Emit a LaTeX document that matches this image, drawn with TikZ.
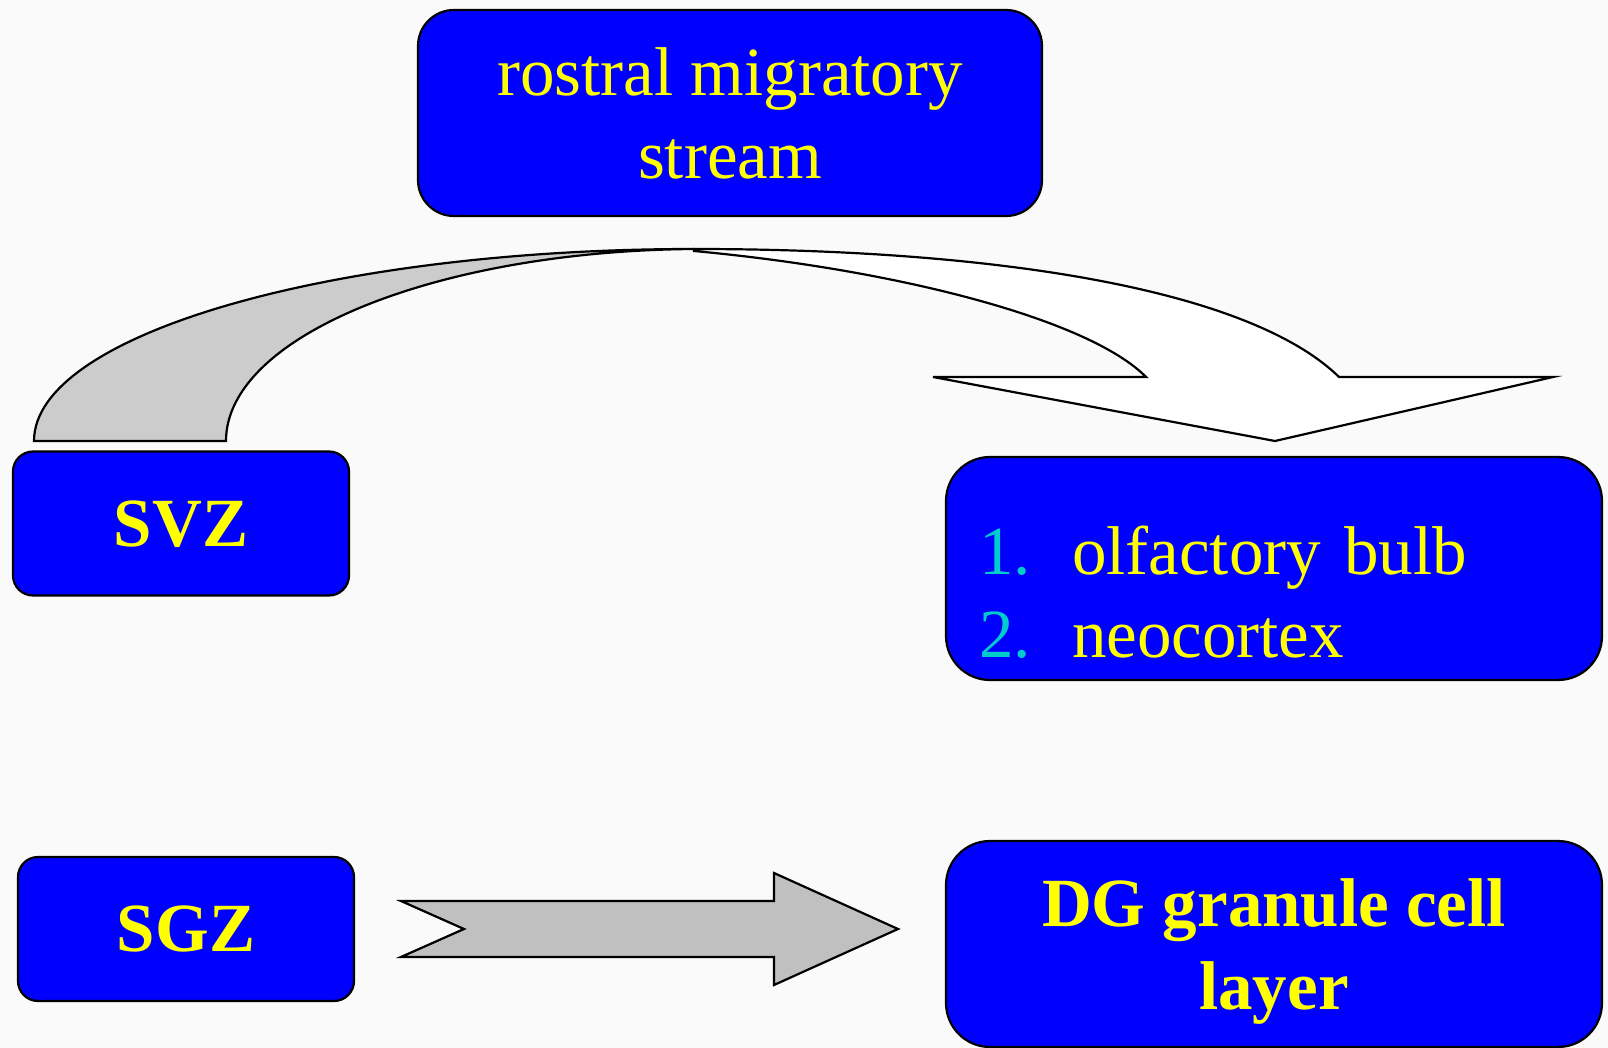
\documentclass[tikz,border=0pt]{standalone}
\usepackage{fontspec}
\setmainfont{Liberation Serif}
\definecolor{pagebg}{RGB}{250,250,250}
\definecolor{boxblue}{RGB}{0,0,255}
\definecolor{labelyellow}{RGB}{255,255,0}
\definecolor{numcyan}{RGB}{0,204,204}
\definecolor{backgray}{RGB}{204,204,204}
\definecolor{shaftgray}{RGB}{192,192,192}
\begin{document}
\begin{tikzpicture}[
    x=0.5pt, y=-0.5pt,
    zonebox/.style={draw=black, line width=1.1pt, fill=boxblue, text=labelyellow,
      rounded corners=#1, inner sep=0pt, align=center, text depth=0pt,
      font=\fontsize{34.5}{41.5}\selectfont},
    zonebox/.default=10pt,
    boldlabel/.style={font=\fontsize{34.5}{41.5}\selectfont\bfseries},
    blockarrow/.style={draw=black, line width=1.1pt, line join=miter}
  ]
  % page
  \fill[pagebg] (0,0) rectangle (1608,1048);
  \useasboundingbox (0,0) rectangle (1608,1048);

  % boxes
  \node[zonebox=18pt, minimum width=312pt, minimum height=103pt] (rms) at (730,113)
    {rostral migratory\\stream};
  \node[zonebox=10pt, minimum width=168pt, minimum height=72pt, boldlabel] (svz) at (181,523.5) {SVZ};
  \node[zonebox=22pt, minimum width=328pt, minimum height=111.5pt, align=left,
        text width=295pt, text depth=18pt] (targets) at (1274,568.5)
    {\textcolor{numcyan}{\makebox[46.5pt][l]{1.}}olfactory bulb\\
     \textcolor{numcyan}{\makebox[46.5pt][l]{2.}}neocortex};
  \node[zonebox=10pt, minimum width=168pt, minimum height=72pt, boldlabel] (sgz) at (186,929) {SGZ};
  \node[zonebox=22pt, minimum width=328pt, minimum height=103pt, boldlabel] (dg) at (1274,944)
    {DG granule cell\\layer};

  % curved block arrow: shaded back part rising from the SVZ
  \filldraw[blockarrow, fill=backgray]
    (34,441) .. controls (34,335) and (330,249) .. (694,249)
    .. controls (436,251) and (226,336) .. (226,441) -- cycle;
  % curved block arrow: white front part with its head
  \filldraw[blockarrow, fill=white]
    (694,249) .. controls (1000,249) and (1250,290) .. (1339,377)
    -- (1553,377) -- (1275,441) -- (933,377) -- (1146,377)
    .. controls (1090,320) and (900,270) .. (694,251) -- cycle;

  % straight notched block arrow from SGZ to DG
  \filldraw[blockarrow, fill=shaftgray]
    (401,901) -- (774,901) -- (774,873) -- (898,929) -- (774,985)
    -- (774,957) -- (401,957) -- (464,929) -- cycle;
\end{tikzpicture}
\end{document}
